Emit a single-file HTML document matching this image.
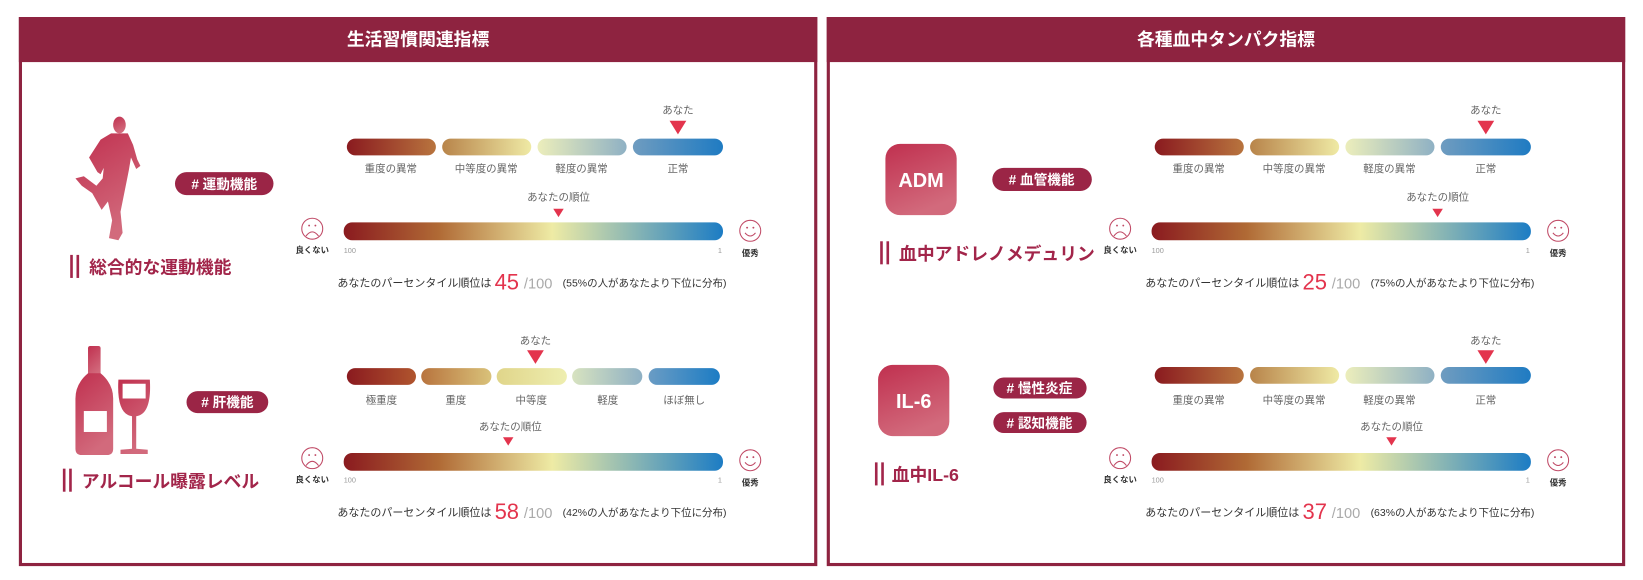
<!DOCTYPE html>
<html><head><meta charset="utf-8"><style>
html,body{margin:0;padding:0;background:#fff;width:1643px;height:580px;overflow:hidden}
text{font-family:"Liberation Sans","Noto Sans CJK JP",sans-serif}
</style></head><body>
<svg width="1643" height="580" viewBox="0 0 1568 553" xmlns="http://www.w3.org/2000/svg">
<defs>
<linearGradient id="gb"><stop offset="0" stop-color="#8a1a1f"/><stop offset="0.25" stop-color="#b06a35"/><stop offset="0.55" stop-color="#eeeba5"/><stop offset="1" stop-color="#1c7cc4"/></linearGradient>
<linearGradient id="s1"><stop offset="0" stop-color="#8a1a1f"/><stop offset="1" stop-color="#b8743e"/></linearGradient>
<linearGradient id="s2"><stop offset="0" stop-color="#b8844a"/><stop offset="1" stop-color="#efeaa5"/></linearGradient>
<linearGradient id="s3"><stop offset="0" stop-color="#eceebb"/><stop offset="1" stop-color="#8fb1c4"/></linearGradient>
<linearGradient id="s4"><stop offset="0" stop-color="#6f9cc0"/><stop offset="1" stop-color="#1f7bc2"/></linearGradient>
<linearGradient id="f1"><stop offset="0" stop-color="#8a1a1f"/><stop offset="1" stop-color="#b0552e"/></linearGradient>
<linearGradient id="f2"><stop offset="0" stop-color="#b8743e"/><stop offset="1" stop-color="#d9c27a"/></linearGradient>
<linearGradient id="f3"><stop offset="0" stop-color="#e0d58a"/><stop offset="1" stop-color="#eeeeb0"/></linearGradient>
<linearGradient id="f4"><stop offset="0" stop-color="#d8e3c0"/><stop offset="1" stop-color="#8eb0c4"/></linearGradient>
<linearGradient id="f5"><stop offset="0" stop-color="#6a9cc4"/><stop offset="1" stop-color="#1c7cc4"/></linearGradient>
<linearGradient id="ic" x1="0" y1="0" x2="0.4" y2="1"><stop offset="0" stop-color="#c0304f"/><stop offset="1" stop-color="#d26a7c"/></linearGradient>
</defs>

<!-- panels -->
<rect x="19.5" y="17.5" width="759" height="521" fill="none" stroke="#8e2340" stroke-width="3"/>
<rect x="18" y="16" width="762" height="43" fill="#8e2340"/>
<text x="399" y="43" text-anchor="middle" font-size="17" font-weight="bold" fill="#fff">生活習慣関連指標</text>
<rect x="790.5" y="17.5" width="759" height="521" fill="none" stroke="#8e2340" stroke-width="3"/>
<rect x="789" y="16" width="762" height="43" fill="#8e2340"/>
<text x="1170" y="43" text-anchor="middle" font-size="17" font-weight="bold" fill="#fff">各種血中タンパク指標</text>

<!-- runner -->
<g fill="url(#ic)">
<ellipse cx="114" cy="119" rx="6" ry="8"/>
<path d="M106,127 L122,127 L127,138 L131,152 L134,158 L130,161 L125,150 L123,162 L119,182 L115,202 L117,222 L113,229 L104,227 L107,210 L103,192 L97,200 L88,184 L78,177 L72,170 L80,168 L92,177 L98,170 L99,160 L96,166 L93,164 L85,150 L96,133 Z"/>
</g>
<!-- bottle & glass -->
<g fill="url(#ic)">
<rect x="84" y="330" width="12" height="30" rx="2"/>
<path d="M84,356 L96,356 Q108,366 108,380 L108,428 Q108,434 102,434 L78,434 Q72,434 72,428 L72,380 Q72,366 84,356 Z"/>
<path d="M113,362 L143,362 Q145,395 130,397 L130,428 L141,429 L141,433 L115,433 L115,429 L126,428 L126,397 Q111,395 113,362 Z"/>
</g>
<rect x="80" y="392" width="22" height="20" fill="#fff"/>
<path d="M117,366 L139,366 L139,380 L117,380 Z" fill="#fff"/>

<!-- ADM / IL-6 boxes -->
<rect x="845" y="137" width="68" height="68" rx="14" fill="url(#ic)"/>
<text x="879" y="178" text-anchor="middle" font-size="19" font-weight="bold" fill="#fff">ADM</text>
<rect x="838" y="348" width="68" height="68" rx="14" fill="url(#ic)"/>
<text x="872" y="389" text-anchor="middle" font-size="19" font-weight="bold" fill="#fff">IL-6</text>

<!-- tags -->
<g font-size="13" font-weight="bold" fill="#fff" text-anchor="middle">
<rect x="167" y="164" width="94" height="22" rx="11" fill="#9b2546"/><text x="214" y="180">#&#160;運動機能</text>
<rect x="178" y="373" width="78" height="21" rx="10.5" fill="#9b2546"/><text x="217" y="388">#&#160;肝機能</text>
<rect x="947" y="160" width="95" height="22" rx="11" fill="#9b2546"/><text x="994" y="176">#&#160;血管機能</text>
<rect x="948" y="360" width="89" height="20" rx="10" fill="#9b2546"/><text x="992" y="375">#&#160;慢性炎症</text>
<rect x="948" y="393" width="89" height="20" rx="10" fill="#9b2546"/><text x="992" y="408">#&#160;認知機能</text>
</g>

<!-- titles -->
<g fill="#a2254a">
<rect x="67" y="243" width="2.5" height="22"/><rect x="73" y="243" width="2.5" height="22"/>
<text x="85" y="261" font-size="17" font-weight="bold">総合的な運動機能</text>
<rect x="60" y="447" width="2.5" height="22"/><rect x="66" y="447" width="2.5" height="22"/>
<text x="78" y="465" font-size="17" font-weight="bold">アルコール曝露レベル</text>
<rect x="840" y="230" width="2.5" height="22"/><rect x="846" y="230" width="2.5" height="22"/>
<text x="858" y="248" font-size="17" font-weight="bold">血中アドレノメデュリン</text>
<rect x="835" y="441" width="2.5" height="22"/><rect x="841" y="441" width="2.5" height="22"/>
<text x="851" y="459" font-size="17" font-weight="bold">血中IL-6</text>
</g>

<!-- ===== Left row1 ===== -->
<g font-size="10" fill="#666" text-anchor="middle">
<text x="647" y="108">あなた</text>
<text x="373" y="164">重度の異常</text><text x="464" y="164">中等度の異常</text><text x="555" y="164">軽度の異常</text><text x="647" y="164">正常</text>
<text x="533" y="191">あなたの順位</text>
</g>
<polygon points="639,115 655,115 647,128" fill="#e3344d"/>
<rect x="331" y="132" width="85" height="16" rx="8" fill="url(#s1)"/>
<rect x="422" y="132" width="85" height="16" rx="8" fill="url(#s2)"/>
<rect x="513" y="132" width="85" height="16" rx="8" fill="url(#s3)"/>
<rect x="604" y="132" width="86" height="16" rx="8" fill="url(#s4)"/>
<polygon points="528,199 538,199 533,207" fill="#e3344d"/>
<rect x="328" y="212" width="362" height="17" rx="8" fill="url(#gb)"/>

<!-- ===== Left row2 ===== -->
<g font-size="10" fill="#666" text-anchor="middle">
<text x="511" y="328">あなた</text>
<text x="364" y="385">極重度</text><text x="435" y="385">重度</text><text x="507" y="385">中等度</text><text x="580" y="385">軽度</text><text x="653" y="385">ほぼ無し</text>
<text x="487" y="410">あなたの順位</text>
</g>
<polygon points="503,334 519,334 511,347" fill="#e3344d"/>
<rect x="331" y="351" width="66" height="16" rx="8" fill="url(#f1)"/>
<rect x="402" y="351" width="67" height="16" rx="8" fill="url(#f2)"/>
<rect x="474" y="351" width="67" height="16" rx="8" fill="url(#f3)"/>
<rect x="546" y="351" width="67" height="16" rx="8" fill="url(#f4)"/>
<rect x="619" y="351" width="68" height="16" rx="8" fill="url(#f5)"/>
<polygon points="480,417 490,417 485,425" fill="#e3344d"/>
<rect x="328" y="432" width="362" height="17" rx="8" fill="url(#gb)"/>

<!-- ===== Right row1 ===== -->
<g font-size="10" fill="#666" text-anchor="middle">
<text x="1418" y="108">あなた</text>
<text x="1144" y="164">重度の異常</text><text x="1235" y="164">中等度の異常</text><text x="1326" y="164">軽度の異常</text><text x="1418" y="164">正常</text>
<text x="1372" y="191">あなたの順位</text>
</g>
<polygon points="1410,115 1426,115 1418,128" fill="#e3344d"/>
<rect x="1102" y="132" width="85" height="16" rx="8" fill="url(#s1)"/>
<rect x="1193" y="132" width="85" height="16" rx="8" fill="url(#s2)"/>
<rect x="1284" y="132" width="85" height="16" rx="8" fill="url(#s3)"/>
<rect x="1375" y="132" width="86" height="16" rx="8" fill="url(#s4)"/>
<polygon points="1367,199 1377,199 1372,207" fill="#e3344d"/>
<rect x="1099" y="212" width="362" height="17" rx="8" fill="url(#gb)"/>

<!-- ===== Right row2 ===== -->
<g font-size="10" fill="#666" text-anchor="middle">
<text x="1418" y="328">あなた</text>
<text x="1144" y="385">重度の異常</text><text x="1235" y="385">中等度の異常</text><text x="1326" y="385">軽度の異常</text><text x="1418" y="385">正常</text>
<text x="1328" y="410">あなたの順位</text>
</g>
<polygon points="1410,334 1426,334 1418,347" fill="#e3344d"/>
<rect x="1102" y="350" width="85" height="16" rx="8" fill="url(#s1)"/>
<rect x="1193" y="350" width="85" height="16" rx="8" fill="url(#s2)"/>
<rect x="1284" y="350" width="85" height="16" rx="8" fill="url(#s3)"/>
<rect x="1375" y="350" width="86" height="16" rx="8" fill="url(#s4)"/>
<polygon points="1323,417 1333,417 1328,425" fill="#e3344d"/>
<rect x="1099" y="432" width="362" height="17" rx="8" fill="url(#gb)"/>

<!-- scale labels & faces -->
<g font-size="7" fill="#999">
<text x="328" y="241">100</text><text x="689" y="241" text-anchor="end">1</text>
<text x="328" y="460">100</text><text x="689" y="460" text-anchor="end">1</text>
<text x="1099" y="241">100</text><text x="1460" y="241" text-anchor="end">1</text>
<text x="1099" y="460">100</text><text x="1460" y="460" text-anchor="end">1</text>
</g>
<g font-size="8" fill="#333" font-weight="bold" text-anchor="middle">
<text x="298" y="241">良くない</text><text x="716" y="244">優秀</text>
<text x="298" y="460">良くない</text><text x="716" y="463">優秀</text>
<text x="1069" y="241">良くない</text><text x="1487" y="244">優秀</text>
<text x="1069" y="460">良くない</text><text x="1487" y="463">優秀</text>
</g>
<g fill="none" stroke="#c04a66" stroke-width="1">
<circle cx="298" cy="218" r="10"/><path d="M292,225 Q298,217 304,225"/>
<circle cx="716" cy="220" r="10"/><path d="M711,222 Q716,228 721,222"/>
<circle cx="298" cy="437" r="10"/><path d="M292,444 Q298,436 304,444"/>
<circle cx="716" cy="439" r="10"/><path d="M711,441 Q716,447 721,441"/>
<circle cx="1069" cy="218" r="10"/><path d="M1063,225 Q1069,217 1075,225"/>
<circle cx="1487" cy="220" r="10"/><path d="M1482,222 Q1487,228 1492,222"/>
<circle cx="1069" cy="437" r="10"/><path d="M1063,444 Q1069,436 1075,444"/>
<circle cx="1487" cy="439" r="10"/><path d="M1482,441 Q1487,447 1492,441"/>
</g>
<g fill="#c04a66">
<circle cx="295" cy="215" r="0.9"/><circle cx="301" cy="215" r="0.9"/>
<circle cx="713" cy="217" r="0.9"/><circle cx="719" cy="217" r="0.9"/>
<circle cx="295" cy="434" r="0.9"/><circle cx="301" cy="434" r="0.9"/>
<circle cx="713" cy="436" r="0.9"/><circle cx="719" cy="436" r="0.9"/>
<circle cx="1066" cy="215" r="0.9"/><circle cx="1072" cy="215" r="0.9"/>
<circle cx="1484" cy="217" r="0.9"/><circle cx="1490" cy="217" r="0.9"/>
<circle cx="1066" cy="434" r="0.9"/><circle cx="1072" cy="434" r="0.9"/>
<circle cx="1484" cy="436" r="0.9"/><circle cx="1490" cy="436" r="0.9"/>
</g>

<!-- percentile lines -->
<g>
<text x="322" y="273" font-size="10.5" fill="#333">あなたのパーセンタイル順位は</text>
<text x="472" y="276" font-size="21" fill="#e3344d">45</text>
<text x="500" y="275" font-size="14" fill="#aaa">/100</text>
<text x="537" y="273" font-size="10" fill="#333">(55%の人があなたより下位に分布)</text>

<text x="322" y="492" font-size="10.5" fill="#333">あなたのパーセンタイル順位は</text>
<text x="472" y="495" font-size="21" fill="#e3344d">58</text>
<text x="500" y="494" font-size="14" fill="#aaa">/100</text>
<text x="537" y="492" font-size="10" fill="#333">(42%の人があなたより下位に分布)</text>

<text x="1093" y="273" font-size="10.5" fill="#333">あなたのパーセンタイル順位は</text>
<text x="1243" y="276" font-size="21" fill="#e3344d">25</text>
<text x="1271" y="275" font-size="14" fill="#aaa">/100</text>
<text x="1308" y="273" font-size="10" fill="#333">(75%の人があなたより下位に分布)</text>

<text x="1093" y="492" font-size="10.5" fill="#333">あなたのパーセンタイル順位は</text>
<text x="1243" y="495" font-size="21" fill="#e3344d">37</text>
<text x="1271" y="494" font-size="14" fill="#aaa">/100</text>
<text x="1308" y="492" font-size="10" fill="#333">(63%の人があなたより下位に分布)</text>
</g>
</svg>
</body></html>
